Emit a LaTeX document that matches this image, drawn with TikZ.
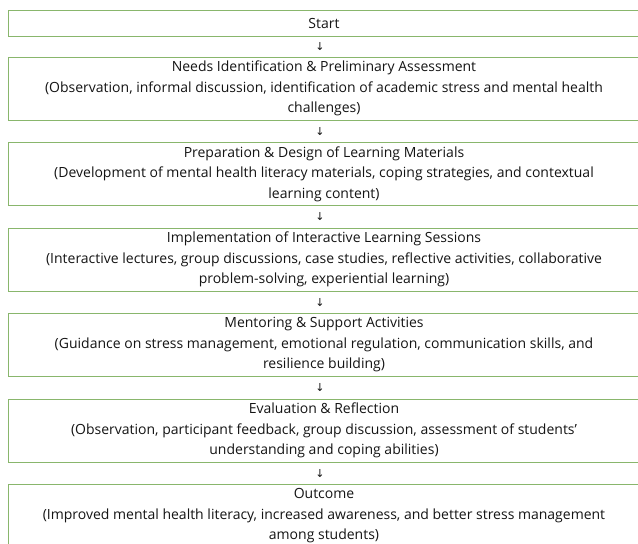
\documentclass[tikz,border=0pt]{standalone}
\usepackage{fontspec}
\setmainfont{Open Sans}
\newfontfamily\arrowfont{DejaVu Sans}
\definecolor{boxgreen}{RGB}{137,182,108}
\definecolor{ink}{RGB}{20,20,20}
\begin{document}
\begin{tikzpicture}[x=1bp,y=-1bp,
  stage/.style={draw=boxgreen, line width=0.9bp, minimum width=632bp, minimum height=63bp,
    inner sep=0pt, align=center, text=ink, font=\fontsize{14bp}{20.5bp}\selectfont},
  startbox/.style={stage, minimum height=26bp},
  arrowlabel/.style={font=\arrowfont\fontsize{11bp}{11bp}\selectfont, text=ink, inner sep=0pt}]
\useasboundingbox (0,0) rectangle (638,544);
\clip (0,0) rectangle (638,544);
\node[startbox] (s0) at (324,23.5) {Start};
\node[stage] (s1) at (324,88.5) {Needs Identification \& Preliminary Assessment\\
(Observation, informal discussion, identification of academic stress and mental health\\
challenges)};
\node[stage] (s2) at (324,174) {Preparation \& Design of Learning Materials\\
(Development of mental health literacy materials, coping strategies, and contextual\\
learning content)};
\node[stage] (s3) at (324,259.5) {Implementation of Interactive Learning Sessions\\
(Interactive lectures, group discussions, case studies, reflective activities, collaborative\\
problem-solving, experiential learning)};
\node[stage] (s4) at (324,345) {Mentoring \& Support Activities\\
(Guidance on stress management, emotional regulation, communication skills, and\\
resilience building)};
\node[stage] (s5) at (324,430.5) {Evaluation \& Reflection\\
(Observation, participant feedback, group discussion, assessment of students’\\
understanding and coping abilities)};
\node[stage] (s6) at (324,516) {Outcome\\
(Improved mental health literacy, increased awareness, and better stress management\\
among students)};
\node[arrowlabel] (a1) at (320,46.75) {↓};
\node[arrowlabel] (a2) at (320,131.25) {↓};
\node[arrowlabel] (a3) at (320,216.75) {↓};
\node[arrowlabel] (a4) at (320,302.25) {↓};
\node[arrowlabel] (a5) at (320,387.75) {↓};
\node[arrowlabel] (a6) at (320,473.25) {↓};
\end{tikzpicture}
\end{document}
